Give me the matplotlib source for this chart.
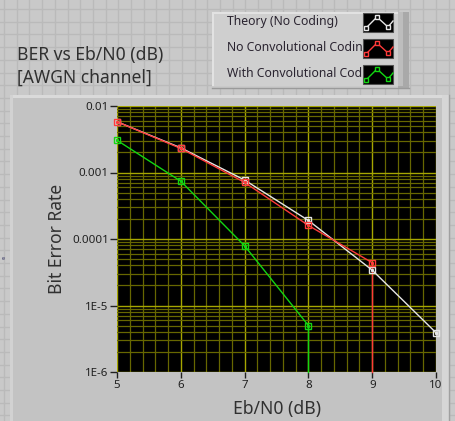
import numpy as np
import matplotlib
matplotlib.use("Agg")
import matplotlib.pyplot as plt
from matplotlib.patches import Rectangle
from matplotlib.lines import Line2D
from matplotlib.ticker import FixedLocator, FixedFormatter, NullFormatter

# Eb/N0 sweep (dB) and measured bit error rates; 0 means no errors counted
ebn0 = [5, 6, 7, 8, 9, 10]
ber_theory = [5.8e-3, 2.35e-3, 7.7e-4, 1.9e-4, 3.4e-5, 3.9e-6]
ber_uncoded = [5.8e-3, 2.3e-3, 7.1e-4, 1.6e-4, 4.4e-5, 0]
ber_coded = [3.05e-3, 7.4e-4, 7.9e-5, 5.0e-6, 0, 0]

series_names = ["Theory (No Coding)", "No Convolutional Coding", "With Convolutional Coding"]
series_colors = ["#e6e6e6", "#ff3a3a", "#12d612"]

y_ticks = [1e-6, 1e-5, 1e-4, 1e-3, 1e-2]
y_tick_labels = ["1E-6", "1E-5", "0.0001", "0.001", "0.01"]
x_ticks = [5, 6, 7, 8, 9, 10]

W, H = 455, 421
fig = plt.figure(figsize=(W / 100, H / 100), dpi=100)
fig.patch.set_facecolor("#c9c9c9")
plt.rcParams["font.family"] = ["Noto Sans", "DejaVu Sans"]


def fx(px):
    return px / W


def fy(py):
    return 1 - py / H


def rect(x0, y0, x1, y1, **kw):
    fig.add_artist(Rectangle((fx(x0), fy(y1)), fx(x1) - fx(x0), fy(y0) - fy(y1),
                             transform=fig.transFigure, **kw))


def hline(x0, x1, y, **kw):
    fig.add_artist(Line2D([fx(x0), fx(x1)], [fy(y), fy(y)], transform=fig.transFigure, **kw))


def vline(x, y0, y1, **kw):
    fig.add_artist(Line2D([fx(x), fx(x)], [fy(y0), fy(y1)], transform=fig.transFigure, **kw))


# front panel grid
for gx in np.arange(4, W, 12.7):
    vline(gx, 0, H, color="#bababa", lw=1, zorder=0)
for gy in np.arange(9, H, 12.7):
    hline(0, W, gy, color="#bababa", lw=1, zorder=0)

# graph panel with bevel
rect(10, 95, 449, 421, facecolor="#c3c3c3", edgecolor="none", zorder=1)
rect(10, 95, 449, 98, facecolor="#dadada", edgecolor="none", zorder=1)
rect(10, 95, 13, 421, facecolor="#d2d2d2", edgecolor="none", zorder=1)
rect(442, 95, 449, 421, facecolor="#d6d6d6", edgecolor="none", zorder=1)
vline(449, 95, 421, color="#a0a0a0", lw=1, zorder=1)

# legend box
rect(212, 12, 409, 88, facecolor="#c9c9c9", edgecolor="none", zorder=2)
rect(212, 12, 405, 86, facecolor="#cfcfcf", edgecolor="none", zorder=2)
rect(212, 12, 405, 14, facecolor="#e2e2e2", edgecolor="none", zorder=2)
rect(212, 12, 214, 86, facecolor="#e2e2e2", edgecolor="none", zorder=2)
rect(398, 12, 409, 88, facecolor="#a9a9a9", edgecolor="none", zorder=2)
rect(398, 12, 403, 86, facecolor="#bdbdbd", edgecolor="none", zorder=2)
hline(212, 409, 88, color="#9a9a9a", lw=1, zorder=2)

legend_rows = [22, 48, 74]
for name, color, ry in zip(series_names, series_colors, legend_rows):
    t = fig.text(fx(227), fy(ry), name, fontsize=8.8, color="#2a2430",
                 ha="left", va="center", zorder=3)
    clip = Rectangle((fx(212), 0), fx(362) - fx(212), 1, transform=fig.transFigure)
    t.set_clip_path(clip)
    rect(363, ry - 9, 393, ry + 10, facecolor="black", edgecolor="#505050", lw=0.8, zorder=4)
    sx = [366, 377, 388, 393]
    sy = [ry + 6, ry - 5, ry + 5, ry - 1]
    fig.add_artist(Line2D([fx(v) for v in sx], [fy(v) for v in sy], transform=fig.transFigure,
                          color=color, lw=1, zorder=5))
    fig.add_artist(Line2D([fx(v) for v in sx[:3]], [fy(v) for v in sy[:3]], transform=fig.transFigure,
                          color=color, lw=0, marker="s", markersize=3.3, markerfacecolor="black",
                          markeredgecolor=color, markeredgewidth=1, zorder=6))

# titles
fig.text(fx(17), fy(55), "BER vs Eb/N0 (dB)", fontsize=12.6, color="#303030", ha="left", va="center")
fig.text(fx(17), fy(78), "[AWGN channel]", fontsize=12.6, color="#303030", ha="left", va="center")
fig.text(fx(2), fy(258), "e", fontsize=4, color="#303060", ha="left", va="center")

# plot area
ax = fig.add_axes([fx(117), fy(372), fx(436) - fx(117), fy(106) - fy(372)])
ax.set_facecolor("black")
ax.set_zorder(5)
ax.set_yscale("log")
ax.set_xlim(5, 10)
ax.set_ylim(1e-6, 1e-2)

ax.xaxis.set_major_locator(FixedLocator(x_ticks))
ax.xaxis.set_minor_locator(FixedLocator(np.arange(5, 10.01, 0.2)))
ax.yaxis.set_major_locator(FixedLocator(y_ticks))
ax.yaxis.set_major_formatter(FixedFormatter(y_tick_labels))
ax.yaxis.set_minor_locator(matplotlib.ticker.LogLocator(base=10, subs=np.arange(2, 10), numticks=20))
ax.yaxis.set_minor_formatter(NullFormatter())

ax.grid(which="major", color="#a6a600", lw=1)
ax.grid(which="minor", color="#676700", lw=0.9)
ax.set_axisbelow(True)
ax.tick_params(which="minor", length=0)
ax.tick_params(axis="y", which="major", length=5, width=1, color="#202020",
               labelsize=8.3, labelcolor="#202020", pad=1)
ax.tick_params(axis="x", which="major", length=4, width=1, color="#202020",
               labelsize=8.3, labelcolor="#202020", pad=2)
for s in ax.spines.values():
    s.set_visible(False)

ymin = ax.get_ylim()[0]
for vals, color in zip([ber_theory, ber_uncoded, ber_coded], series_colors):
    xs = [x for x, v in zip(ebn0, vals) if v > 0]
    ys = [v for v in vals if v > 0]
    ax.plot(xs, ys, color=color, lw=1, zorder=3)
    # zero error count drops to the bottom of the log axis
    if len(ys) < len(vals):
        ax.plot([xs[-1], xs[-1]], [ys[-1], ymin], color=color, lw=1, zorder=3, clip_on=False)
    ax.plot(xs, ys, lw=0, marker="s", markersize=4.5, markerfacecolor="none",
            markeredgecolor=color, markeredgewidth=1, zorder=4, clip_on=False)
    ax.plot(xs, ys, lw=0, marker="s", markersize=1.2, color=color, zorder=4, clip_on=False)

fig.text(fx(57), fy(239), "Bit Error Rate", fontsize=12.6, color="#303030",
         rotation=90, ha="center", va="center")
fig.text(fx(277), fy(400), "Eb/N0 (dB)", fontsize=12.6, color="#303030", ha="center", va="top")

fig.savefig("out.png", dpi=100, facecolor=fig.get_facecolor())
